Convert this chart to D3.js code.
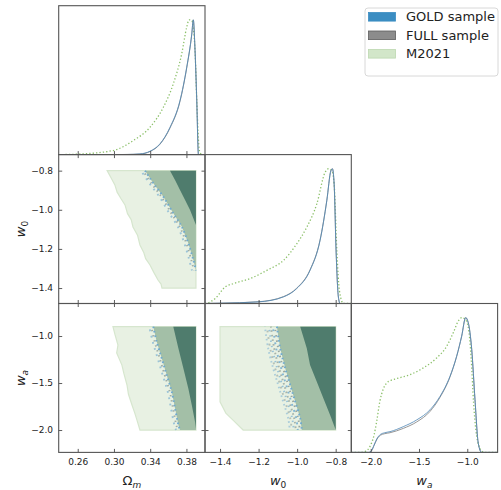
<!DOCTYPE html>
<html><head><meta charset="utf-8">
<script src="https://cdn.jsdelivr.net/npm/d3@7"></script>
<style>
body{margin:0;background:#fff}
svg{display:block;font-family:"DejaVu Sans",sans-serif}
</style>
</head><body>
<svg id="c" width="501" height="490"></svg>
<script>
// ---------------- data ----------------
const omTicks = [0.26, 0.30, 0.34, 0.38];
const w0Ticks = [-1.4, -1.2, -1.0, -0.8];
const waTicks = [-2.0, -1.5, -1.0];

const seriesNames = ["GOLD sample", "FULL sample", "M2021"];

// prior edges
const omMax = 0.3905;
const w0Prior = [-1.4, -0.8];
const waPrior = [-2.0, -0.9];

// 1D marginals [value, relative density]
const omGold = [[0.30,0],[0.315,0.001],[0.3287,0.005],[0.3398,0.025],[0.3508,0.08],[0.3619,0.203],[0.3729,0.401],[0.3803,0.648],[0.3859,0.896],[0.3876,1.0],[0.3895,0.772],[0.3914,0.401],[0.3932,0.005],[0.394,0]];
const omFull = [[0.30,0],[0.315,0.001],[0.3287,0.004],[0.3398,0.023],[0.3508,0.077],[0.3619,0.198],[0.3729,0.395],[0.3803,0.642],[0.3859,0.892],[0.3876,1.0],[0.3895,0.776],[0.3914,0.405],[0.3932,0.006],[0.394,0]];
const omM2021 = [[0.239,0],[0.2588,0.003],[0.2989,0.03],[0.3213,0.104],[0.3398,0.203],[0.3545,0.351],[0.3655,0.525],[0.3748,0.748],[0.3803,0.945],[0.3829,1.0],[0.3859,0.995],[0.3895,0.772],[0.3914,0.401],[0.3943,0.03],[0.3969,0],[0.4005,0]];

const w0Gold = [[-1.478,0],[-1.399,0.002],[-1.2,0.012],[-1.071,0.049],[-1.002,0.111],[-0.933,0.246],[-0.881,0.468],[-0.846,0.763],[-0.825,0.985],[-0.817,1.0],[-0.808,0.887],[-0.798,0.394],[-0.786,0.049],[-0.777,0],[-0.719,0]];
const w0Full = [[-1.478,0],[-1.399,0.002],[-1.2,0.013],[-1.071,0.051],[-1.002,0.114],[-0.933,0.25],[-0.881,0.472],[-0.846,0.766],[-0.825,0.985],[-0.817,1.0],[-0.808,0.885],[-0.798,0.39],[-0.786,0.047],[-0.777,0],[-0.719,0]];
const w0M2021 = [[-1.478,0],[-1.462,0.005],[-1.425,0.037],[-1.373,0.123],[-1.330,0.148],[-1.244,0.185],[-1.157,0.246],[-1.071,0.32],[-1.002,0.443],[-0.950,0.566],[-0.898,0.739],[-0.855,0.973],[-0.838,1.0],[-0.820,0.985],[-0.808,0.887],[-0.794,0.394],[-0.781,0.099],[-0.760,0],[-0.719,0]];

const waGold = [[-2.201,0],[-2.02,0],[-1.99,0.015],[-1.965,0.055],[-1.935,0.103],[-1.900,0.133],[-1.860,0.145],[-1.800,0.154],[-1.663,0.191],[-1.524,0.241],[-1.386,0.316],[-1.283,0.415],[-1.179,0.565],[-1.110,0.714],[-1.058,0.863],[-1.017,1.0],[-0.990,0.963],[-0.954,0.764],[-0.920,0.391],[-0.886,0.067],[-0.851,0],[-0.686,0]];
const waFull = [[-2.201,0],[-2.02,0],[-1.99,0.014],[-1.965,0.052],[-1.935,0.098],[-1.900,0.127],[-1.860,0.138],[-1.800,0.146],[-1.663,0.178],[-1.524,0.226],[-1.386,0.304],[-1.283,0.408],[-1.179,0.56],[-1.110,0.712],[-1.058,0.862],[-1.017,1.0],[-0.990,0.963],[-0.954,0.764],[-0.920,0.391],[-0.886,0.067],[-0.851,0],[-0.686,0]];
const waM2021 = [[-2.201,0],[-2.111,0],[-2.05,0.01],[-2.007,0.045],[-1.965,0.13],[-1.938,0.23],[-1.905,0.38],[-1.870,0.470],[-1.835,0.515],[-1.790,0.535],[-1.731,0.548],[-1.593,0.577],[-1.455,0.627],[-1.317,0.701],[-1.213,0.788],[-1.145,0.888],[-1.093,0.975],[-1.058,1.0],[-1.024,0.99],[-0.990,0.93],[-0.960,0.70],[-0.935,0.37],[-0.910,0.16],[-0.880,0.05],[-0.840,0.005],[-0.800,0],[-0.686,0]];

// 2D contour left edges (top -> bottom); closed along the prior edges
const omW0M2021 = [[0.2925,-0.80],[0.2960,-0.83],[0.3010,-0.873],[0.3035,-0.91],[0.3080,-0.945],[0.3122,-0.975],[0.3150,-1.02],[0.3190,-1.05],[0.3210,-1.088],[0.3260,-1.13],[0.3287,-1.18],[0.3330,-1.22],[0.3350,-1.25],[0.3398,-1.282],[0.3440,-1.32],[0.3486,-1.359],[0.3520,-1.38],[0.3530,-1.40]];
const omW0Outer = [[0.3343,-0.80],[0.3434,-0.864],[0.3545,-0.933],[0.3655,-1.018],[0.3748,-1.086],[0.3821,-1.171],[0.3876,-1.257],[0.3905,-1.31]];
const omW0Inner = [[0.3619,-0.80],[0.3674,-0.848],[0.3729,-0.899],[0.3785,-0.950],[0.3840,-1.001],[0.3876,-1.043],[0.3905,-1.078]];

const omWaM2021 = [[0.2989,-0.90],[0.3010,-0.98],[0.3044,-1.096],[0.3030,-1.18],[0.3088,-1.309],[0.3110,-1.40],[0.3144,-1.521],[0.3160,-1.62],[0.3199,-1.734],[0.3230,-1.82],[0.3254,-1.894],[0.3287,-2.0]];
const omWaOuter = [[0.3434,-0.90],[0.3472,-1.061],[0.3527,-1.237],[0.3582,-1.415],[0.3638,-1.593],[0.3674,-1.769],[0.3711,-1.947],[0.3729,-2.0]];
const omWaInner = [[0.3655,-0.90],[0.3711,-1.131],[0.3766,-1.344],[0.3821,-1.557],[0.3859,-1.734],[0.3895,-1.912],[0.3905,-1.99]];

const w0WaM2021 = [[-1.40,-0.90],[-1.40,-1.70],[-1.37,-1.82],[-1.33,-1.90],[-1.28,-2.0]];
const w0WaOuter = [[-1.105,-0.90],[-1.088,-1.131],[-1.062,-1.344],[-1.036,-1.521],[-1.010,-1.699],[-0.984,-1.876],[-0.976,-2.0]];
const w0WaInner = [[-0.984,-0.90],[-0.950,-1.131],[-0.933,-1.309],[-0.898,-1.486],[-0.864,-1.663],[-0.829,-1.840],[-0.803,-1.982],[-0.80,-2.0]];

// ---------------- styles ----------------
const lineCol = {gold:"#4f87b5", full:"#8a8a8a", m2021:"#8cc06a"};
const fillLight = "#e8f1e3", fillMid = "#a3bfa7", fillDark = "#4f7c6d";
const legendFill = ["#3b8dc2", "#8c8c8c", "#d2e6c9"];
const legendStroke = ["#3b8dc2", "#5e5e5e", "#bcd8b0"];

// ---------------- layout ----------------
const colX = [58.7, 205, 351.3], rowY = [5.7, 154.6, 303.5];
const PW = 146.3, PH = 148.9;
const svg = d3.select("#c");

const xOm = d3.scaleLinear().domain([0.239, 0.4005]).range([colX[0], colX[0] + PW]);
const xW0 = d3.scaleLinear().domain([-1.478, -0.719]).range([colX[1], colX[1] + PW]);
const xWa = d3.scaleLinear().domain([-2.201, -0.686]).range([colX[2], colX[2] + PW]);
const yW0 = d3.scaleLinear().domain([-1.479, -0.718]).range([rowY[1] + PH, rowY[1]]);
const yWa = d3.scaleLinear().domain([-2.238, -0.654]).range([rowY[2] + PH, rowY[2]]);
const yDen = r => d3.scaleLinear().domain([0, 1.105]).range([rowY[r] + PH, rowY[r]]);

const fmt2 = d3.format(".2f"), fmt1 = d3.format(".1f");
const TK = 3.5;

function clip(id, c, r) {
  svg.append("clipPath").attr("id", id).append("rect")
    .attr("x", colX[c]).attr("y", rowY[r]).attr("width", PW).attr("height", PH);
}

function frame(c, r) {
  svg.append("rect").attr("x", colX[c]).attr("y", rowY[r]).attr("width", PW).attr("height", PH)
    .attr("fill", "none").attr("stroke", "#555").attr("stroke-width", 1.1);
}

function axes(c, r, xs, xt, xf, ys, yt, yf, is2D, showX, showY) {
  const g = svg.append("g").attr("class", "ax");
  const styleAx = s => { s.select(".domain").remove(); s.selectAll("line").attr("stroke", "#333").attr("stroke-width", 0.8); s.selectAll("text").attr("fill", "#222").attr("font-size", 9).attr("font-family", "DejaVu Sans"); };
  g.append("g").attr("transform", `translate(0,${rowY[r] + PH})`)
    .call(d3.axisBottom(xs).tickValues(xt).tickSize(-TK).tickPadding(6.2).tickFormat(showX ? xf : ""))
    .call(styleAx);
  if (is2D) {
    g.append("g").attr("transform", `translate(0,${rowY[r]})`)
      .call(d3.axisTop(xs).tickValues(xt).tickSize(-TK).tickFormat("")).call(styleAx);
    g.append("g").attr("transform", `translate(${colX[c]},0)`)
      .call(d3.axisLeft(ys).tickValues(yt).tickSize(-TK).tickPadding(5.7).tickFormat(showY ? yf : ""))
      .call(styleAx);
    g.append("g").attr("transform", `translate(${colX[c] + PW},0)`)
      .call(d3.axisRight(ys).tickValues(yt).tickSize(-TK).tickFormat("")).call(styleAx);
  }
}

// ---------------- 1D panels ----------------
function panel1D(c, r, xs, gold, full, m2021, id) {
  clip(id, c, r);
  const ys = yDen(r);
  const g = svg.append("g").attr("clip-path", `url(#${id})`);
  const line = d3.line().x(d => xs(d[0])).y(d => ys(d[1])).curve(d3.curveMonotoneX);
  g.append("path").datum(m2021).attr("d", line).attr("fill", "none")
    .attr("stroke", lineCol.m2021).attr("stroke-width", 1.3).attr("stroke-dasharray", "1.3,2.1");
  g.append("path").datum(full).attr("d", line).attr("fill", "none")
    .attr("stroke", lineCol.full).attr("stroke-width", 0.9);
  g.append("path").datum(gold).attr("d", line).attr("fill", "none")
    .attr("stroke", lineCol.gold).attr("stroke-width", 0.9).attr("stroke-opacity", 0.9);
}

// ---------------- 2D panels ----------------
function panel2D(c, r, xs, ys, light, outer, inner, closeFn, id, spread) {
  clip(id, c, r);
  const g = svg.append("g").attr("clip-path", `url(#${id})`);
  const ln = d3.line().x(d => xs(d[0])).y(d => ys(d[1]));
  g.append("path").datum(closeFn(light)).attr("d", d => ln(d) + "Z")
    .attr("fill", fillLight).attr("stroke", "#d6e6ce").attr("stroke-width", 1.2);
  g.append("path").datum(closeFn(outer)).attr("d", d => ln(d) + "Z").attr("fill", fillMid);
  // speckled boundary band of the GOLD / FULL samples
  const edge = d3.line().x(d => xs(d[0])).y(d => ys(d[1])).curve(d3.curveCatmullRom);
  const offs = d3.range(0, spread + 0.1, 2);
  offs.forEach((o, k) => {
    const blue = k % 2 === 0;
    g.append("path").datum(outer).attr("d", edge).attr("fill", "none")
      .attr("transform", `translate(${-o},0)`)
      .attr("stroke", blue ? "#6aa8d2" : "#8d9a93")
      .attr("stroke-width", 1.9)
      .attr("stroke-dasharray", k % 3 === 0 ? "1.6,2.9" : (k % 3 === 1 ? "1.4,3.8" : "1.8,4.6"))
      .attr("stroke-dashoffset", k * 1.7)
      .attr("opacity", 0.95 - 0.5 * o / (spread + 1));
  });
  g.append("path").datum(closeFn(inner)).attr("d", d => ln(d) + "Z").attr("fill", fillDark);
}

const closeOm = (top) => pts => {
  const last = pts[pts.length - 1];
  return pts.concat([[omMax, last[1]], [omMax, top]]);
};
const closeW0Wa = pts => pts.concat([[w0Prior[1], waPrior[0]], [w0Prior[1], waPrior[1]]]);

panel1D(0, 0, xOm, omGold, omFull, omM2021, "c00");
panel1D(1, 1, xW0, w0Gold, w0Full, w0M2021, "c11");
panel1D(2, 2, xWa, waGold, waFull, waM2021, "c22");
panel2D(0, 1, xOm, yW0, omW0M2021, omW0Outer, omW0Inner, closeOm(w0Prior[1]), "c01", 5);
panel2D(0, 2, xOm, yWa, omWaM2021, omWaOuter, omWaInner, closeOm(waPrior[1]), "c02", 5);
panel2D(1, 2, xW0, yWa, w0WaM2021, w0WaOuter, w0WaInner, closeW0Wa, "c12", 12);

// axes & frames
axes(0, 0, xOm, omTicks, fmt2, null, null, null, false, false, false);
axes(1, 1, xW0, w0Ticks, fmt1, null, null, null, false, false, false);
axes(2, 2, xWa, waTicks, fmt1, null, null, null, false, true, false);
axes(0, 1, xOm, omTicks, fmt2, yW0, w0Ticks, fmt1, true, false, true);
axes(0, 2, xOm, omTicks, fmt2, yWa, waTicks, fmt1, true, true, true);
axes(1, 2, xW0, w0Ticks, fmt1, yWa, waTicks, fmt1, true, true, false);
[[0,0],[1,1],[2,2],[0,1],[0,2],[1,2]].forEach(([c, r]) => frame(c, r));

// axis labels
function mathLabel(sel, main, mainItalic, sub, subItalic) {
  sel.append("tspan").text(main).attr("font-style", mainItalic ? "italic" : "normal");
  sel.append("tspan").text(sub).attr("font-style", subItalic ? "italic" : "normal")
    .attr("font-size", 9).attr("dy", 3);
}
const lblY = 484.5;
mathLabel(svg.append("text").attr("x", colX[0] + PW / 2).attr("y", lblY).attr("text-anchor", "middle")
  .attr("font-size", 13).attr("fill", "#222"), "Ω", false, "m", true);
mathLabel(svg.append("text").attr("x", colX[1] + PW / 2).attr("y", lblY).attr("text-anchor", "middle")
  .attr("font-size", 13).attr("fill", "#222"), "w", true, "0", false);
mathLabel(svg.append("text").attr("x", colX[2] + PW / 2).attr("y", lblY).attr("text-anchor", "middle")
  .attr("font-size", 13).attr("fill", "#222"), "w", true, "a", true);
mathLabel(svg.append("text").attr("transform", `translate(25,${rowY[1] + PH / 2}) rotate(-90)`).attr("text-anchor", "middle")
  .attr("font-size", 13).attr("fill", "#222"), "w", true, "0", false);
mathLabel(svg.append("text").attr("transform", `translate(25,${rowY[2] + PH / 2}) rotate(-90)`).attr("text-anchor", "middle")
  .attr("font-size", 13).attr("fill", "#222"), "w", true, "a", true);

// legend
const lg = svg.append("g");
lg.append("rect").attr("x", 365).attr("y", 8).attr("width", 133).attr("height", 68).attr("rx", 3)
  .attr("fill", "#fff").attr("stroke", "#d4d4d4").attr("stroke-width", 0.9);
seriesNames.forEach((name, i) => {
  const cy = 16.8 + i * 18.5;
  lg.append("rect").attr("x", 368.5).attr("y", cy - 4.3).attr("width", 27).attr("height", 8.6)
    .attr("fill", legendFill[i]).attr("stroke", legendStroke[i]).attr("stroke-width", 0.8);
  lg.append("text").attr("x", 406).attr("y", cy).attr("dy", "0.36em").attr("font-size", 13)
    .attr("fill", "#222").text(name);
});
</script>
</body></html>
